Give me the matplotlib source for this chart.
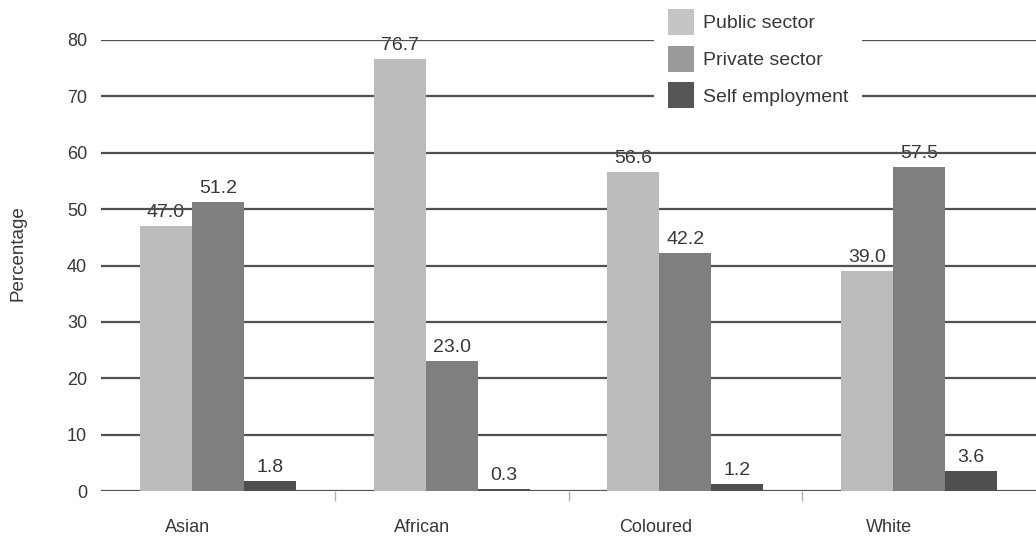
import matplotlib
matplotlib.use("Agg")
import matplotlib.pyplot as plt
import matplotlib.transforms as mtransforms
from matplotlib.patches import Patch
import numpy as np

plt.rcParams['font.family'] = ['Liberation Sans', 'DejaVu Sans']

categories = ["Asian", "African", "Coloured", "White"]
series_names = ["Public sector", "Private sector", "Self employment"]
public = [47.0, 76.7, 56.6, 39.0]
private = [51.2, 23.0, 42.2, 57.5]
self_emp = [1.8, 0.3, 1.2, 3.6]
yticks = [0, 10, 20, 30, 40, 50, 60, 70, 80]

colors = ["#bcbcbc", "#7f7f7f", "#4f4f4f"]
legend_colors = ["#c4c4c4", "#9a9a9a", "#555555"]
text_color = "#383838"

fig = plt.figure(figsize=(10.36, 5.38), dpi=100)
ax = fig.add_axes([101 / 1036, 1 - 491 / 538, 1 - 101 / 1036, (491 - 40) / 538])

x = np.arange(len(categories))
width = 0.2225
for i, (vals, col) in enumerate(zip([public, private, self_emp], colors)):
    bars = ax.bar(x + (i - 1) * width, vals, width, color=col, zorder=3)
    for b, v in zip(bars, vals):
        # value labels sit beneath the gridlines, bars sit above them
        ax.annotate(f"{v:.1f}", (b.get_x() + b.get_width() / 2, v),
                    xytext=(0, 3.5), textcoords="offset points",
                    ha="center", va="bottom", fontsize=14, color=text_color,
                    zorder=0.3)

ax.set_xlim(-0.5, len(categories) - 0.5)
ax.set_ylim(0, 80)
ax.set_yticks(yticks)
ax.set_yticklabels([str(t) for t in yticks], fontsize=13, color=text_color)
ax.tick_params(axis="y", length=0, pad=10)
ax.yaxis.grid(True, color="#505050", linewidth=1.6)
ax.set_axisbelow(True)
for s in ax.spines.values():
    s.set_visible(False)

# Category separators below the baseline
ax.set_xticks(x[:-1] + 0.5)
ax.set_xticklabels([])
ax.tick_params(axis="x", length=7, width=1, color="#b0b0b0", direction="out")

# Category names, set slightly left of the group centres
offset = mtransforms.ScaledTranslation(-30 / 100, 0, fig.dpi_scale_trans)
trans = mtransforms.blended_transform_factory(ax.transData, ax.transAxes) + offset
for xi, name in zip(x, categories):
    ax.text(xi, -0.08, name, transform=trans, ha="center", va="center",
            fontsize=13, color=text_color)

fig.text(18 / 1036, 1 - 253 / 538, "Percentage", rotation=90,
         ha="center", va="center", fontsize=13.5, color=text_color)

handles = [Patch(facecolor=c, edgecolor="none") for c in legend_colors]
leg = fig.legend(handles, series_names, loc="upper left",
                 bbox_to_anchor=(654 / 1036, 1 + 5 / 538), frameon=True,
                 fontsize=14, handlelength=1.34, handleheight=1.68,
                 labelspacing=0.55, handletextpad=0.46, borderpad=0.72,
                 borderaxespad=0, fancybox=False)
leg.get_frame().set_facecolor("white")
leg.get_frame().set_edgecolor("none")
leg.get_frame().set_alpha(1.0)
for t in leg.get_texts():
    t.set_color(text_color)

fig.savefig("out.png", dpi=100)
